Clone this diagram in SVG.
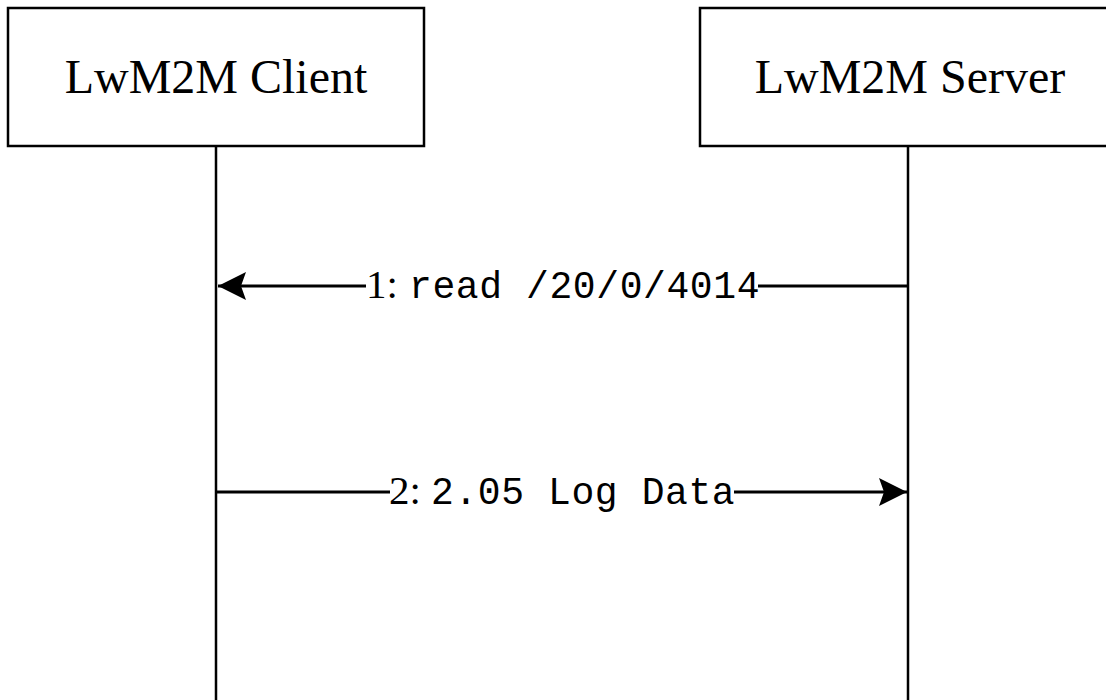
<svg xmlns="http://www.w3.org/2000/svg" width="1106" height="700" viewBox="0 0 1106 700">
<style>
.box{fill:#fff;stroke:#000;stroke-width:2.5}
.life{stroke:#000;stroke-width:2.5;fill:none}
.msg{stroke:#000;stroke-width:3;fill:none}
.title{font-family:"Liberation Serif","Times New Roman",serif;font-size:48px;fill:#000;text-anchor:middle}
.num{font-family:"Liberation Serif","Times New Roman",serif;font-size:41px;fill:#000}
.mono{font-family:"Liberation Mono","Courier New",monospace;font-size:38px;letter-spacing:0.6px;fill:#000}
</style>
<defs>
<marker id="ah" viewBox="0 0 30 30" refX="30" refY="15" markerWidth="30" markerHeight="30" markerUnits="userSpaceOnUse" orient="auto">
<path d="M30,15 L2,1 L7,15 L2,29 Z" fill="#000"/>
</marker>
</defs>
<rect width="1106" height="700" fill="#fff"/>
<g id="lifelines">
<line class="life" x1="216" y1="146" x2="216" y2="700"/>
<line class="life" x1="908" y1="146" x2="908" y2="700"/>
</g>
<g id="client">
<rect class="box" x="8" y="8" width="416" height="138"/>
<text class="title" x="216" y="93">LwM2M Client</text>
</g>
<g id="server">
<rect class="box" x="700" y="8" width="420" height="138"/>
<text class="title" x="910" y="93">LwM2M Server</text>
</g>
<g id="connectors">
<line class="msg" x1="908" y1="286" x2="758" y2="286"/>
<line class="msg" x1="366" y1="286" x2="218" y2="286" marker-end="url(#ah)"/>
<text x="366" y="298"><tspan class="num">1:</tspan><tspan class="mono" x="409">read /20/0/4014</tspan></text>
<line class="msg" x1="216" y1="492" x2="390" y2="492"/>
<line class="msg" x1="734" y1="492" x2="907" y2="492" marker-end="url(#ah)"/>
<text x="389" y="504"><tspan class="num">2:</tspan><tspan class="mono" x="431">2.05 Log Data</tspan></text>
</g>
</svg>
